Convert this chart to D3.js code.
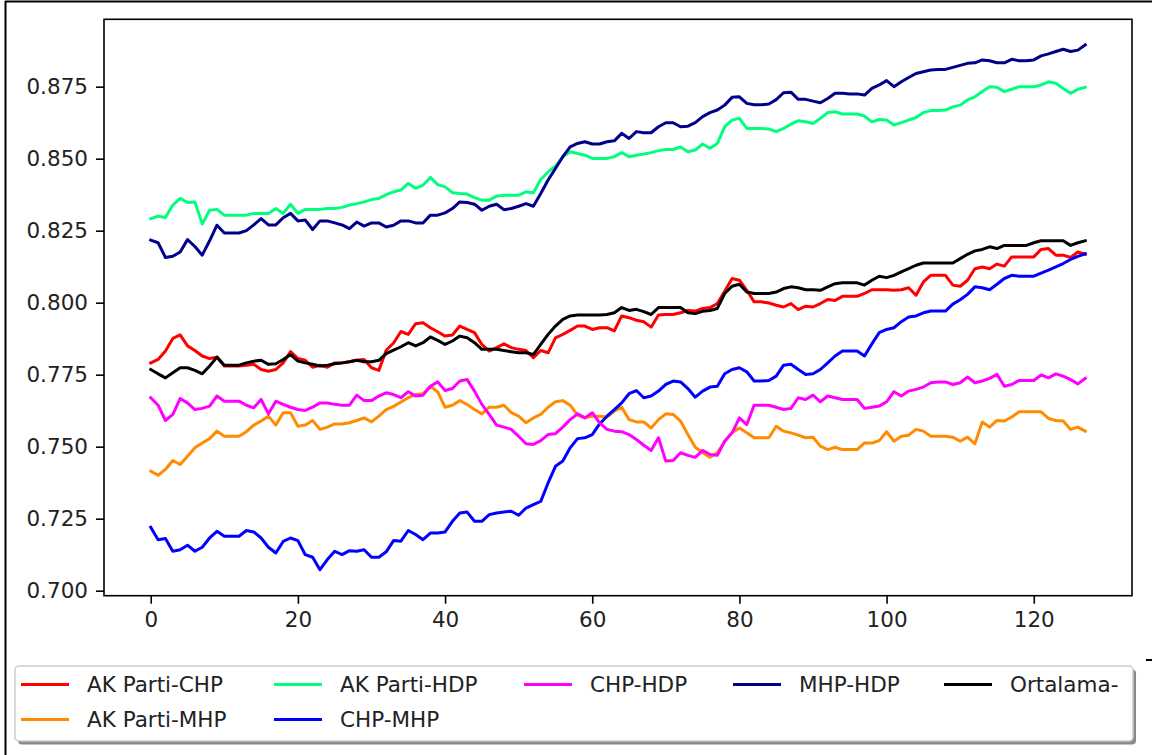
<!DOCTYPE html>
<html>
<head>
<meta charset="utf-8">
<script src="https://cdn.jsdelivr.net/npm/d3@7"></script>
<style>
  body { margin: 0; background: #fff; }
  svg { display: block; font-family: "DejaVu Sans", sans-serif; }
</style>
</head>
<body>
<div id="chart"></div>
<script>
// series values, index 0..127
var akChp = [0.7791,0.7803,0.7832,0.7876,0.7888,0.7850,0.7834,0.7815,0.7806,0.7811,0.7780,0.7780,0.7780,0.7783,0.7786,0.7768,0.7762,0.7768,0.7791,0.7830,0.7806,0.7800,0.7776,0.7783,0.7776,0.7791,0.7791,0.7795,0.7800,0.7803,0.7774,0.7765,0.7835,0.7860,0.7900,
  0.7890,0.7927,0.7930,0.7913,0.7899,0.7884,0.7888,0.7919,0.7907,0.7896,0.7855,0.7832,0.7844,0.7857,0.7844,0.7838,0.7834,0.7809,0.7834,0.7826,0.7878,0.7890,0.7904,0.7919,0.7919,0.7907,0.7913,0.7913,0.7902,0.7954,0.7948,0.7939,0.7934,0.7915,0.7957,0.7959,0.7959,0.7965,0.7973,0.7971,0.7980,0.7983,0.7997,0.8040,0.8084,0.8078,
  0.8043,0.8003,0.8003,0.7999,0.7991,0.7985,0.7997,0.7976,0.7988,0.7985,0.7997,0.8011,0.8008,0.8022,0.8022,0.8022,0.8032,0.8045,0.8045,0.8045,0.8043,0.8045,0.8052,0.8026,0.8072,0.8095,0.8095,0.8095,0.8061,0.8057,0.8078,0.8118,0.8124,0.8118,0.8134,0.8127,0.8159,0.8159,0.8159,0.8159,0.8185,0.8188,0.8165,0.8165,0.8157,0.8176,0.8168];

var akMhp = [0.7415,0.7401,0.7421,0.7452,0.7438,0.7467,0.7496,0.7513,0.7528,0.7554,0.7536,0.7536,0.7536,0.7552,0.7575,0.7589,0.7606,0.7575,0.7618,0.7618,0.7571,0.7575,0.7591,0.7560,0.7568,0.7579,0.7579,0.7583,0.7591,0.7600,0.7586,0.7606,
  0.7629,0.7640,0.7655,0.7670,0.7681,0.7684,0.7710,0.7690,0.7637,0.7644,0.7660,0.7647,0.7629,0.7614,0.7637,0.7637,0.7644,0.7618,0.7606,0.7583,0.7600,0.7612,0.7637,0.7656,0.7660,0.7644,0.7610,0.7600,0.7606,0.7606,0.7603,0.7623,0.7637,0.7594,0.7586,0.7586,0.7565,0.7594,0.7614,0.7612,0.7589,0.7542,0.7498,0.7479,0.7463,0.7479,0.7519,0.7548,0.7565,0.7548,0.7531,0.7531,0.7531,0.7571,
  0.7554,0.7548,0.7540,0.7531,0.7533,0.7502,0.7490,0.7498,0.7490,0.7490,0.7490,0.7513,0.7513,0.7521,0.7552,0.7519,0.7536,0.7540,0.7560,0.7554,0.7536,0.7536,0.7536,0.7533,0.7519,0.7533,0.7510,0.7586,0.7568,0.7591,0.7589,0.7603,0.7621,0.7621,0.7621,0.7621,0.7598,0.7591,0.7589,0.7560,0.7568,0.7554];

var akHdp = [0.8292,0.8300,0.8296,0.8339,0.8362,0.8348,0.8350,0.8273,0.8321,0.8324,0.8304,0.8304,0.8304,0.8304,0.8310,0.8310,0.8310,0.8327,0.8310,0.8342,0.8310,0.8324,0.8324,0.8324,0.8327,0.8327,0.8331,0.8339,0.8344,0.8350,0.8358,0.8362,0.8375,0.8385,0.8391,
  0.8414,0.8397,0.8408,0.8435,0.8410,0.8402,0.8382,0.8379,0.8377,0.8365,0.8356,0.8356,0.8370,0.8373,0.8373,0.8373,0.8385,0.8382,0.8428,0.8454,0.8474,0.8507,0.8524,0.8518,0.8512,0.8501,0.8501,0.8501,0.8507,0.8521,0.8507,0.8512,0.8516,0.8521,0.8528,0.8532,0.8532,0.8541,0.8524,0.8530,0.8551,0.8536,0.8553,0.8611,0.8634,0.8640,0.8605,0.8605,0.8605,0.8603,0.8594,
  0.8605,0.8620,0.8632,0.8628,0.8622,0.8640,0.8660,0.8663,0.8655,0.8655,0.8655,0.8648,0.8628,0.8636,0.8634,0.8617,0.8625,0.8634,0.8643,0.8660,0.8667,0.8667,0.8669,0.8680,0.8686,0.8704,0.8715,0.8733,0.8750,0.8748,0.8733,0.8741,0.8750,0.8750,0.8750,0.8756,0.8767,0.8762,0.8744,0.8727,0.8741,0.8748];

var chpMhp = [0.7220,0.7177,0.7181,0.7137,0.7142,0.7158,0.7137,0.7151,0.7183,0.7206,0.7189,0.7189,0.7189,0.7209,0.7204,0.7183,0.7151,0.7131,0.7171,0.7183,0.7174,0.7125,0.7116,0.7073,0.7108,0.7137,0.7125,0.7139,0.7137,0.7142,0.7116,
  0.7116,0.7135,0.7174,0.7172,0.7209,0.7195,0.7177,0.7200,0.7200,0.7204,0.7241,0.7270,0.7273,0.7241,0.7241,0.7264,0.7270,0.7273,0.7276,0.7262,0.7287,0.7299,0.7310,0.7374,0.7432,0.7450,0.7496,0.7528,0.7531,0.7542,0.7579,0.7606,0.7629,0.7652,0.7684,0.7695,0.7670,0.7676,0.7693,0.7716,0.7728,0.7725,0.7702,0.7672,0.7693,0.7707,0.7710,0.7753,0.7768,0.7774,0.7760,0.7728,0.7728,0.7730,0.7745,
  0.7783,0.7786,0.7768,0.7751,0.7753,0.7768,0.7791,0.7815,0.7832,0.7832,0.7832,0.7815,0.7857,0.7896,0.7907,0.7913,0.7934,0.7950,0.7954,0.7965,0.7971,0.7971,0.7971,0.7995,0.8010,0.8029,0.8055,0.8052,0.8045,0.8064,0.8084,0.8095,0.8092,0.8092,0.8092,0.8103,0.8113,0.8124,0.8136,0.8150,0.8161,0.8170];

var chpHdp = [0.7670,0.7644,0.7591,0.7612,0.7667,0.7652,0.7629,0.7633,0.7641,0.7676,0.7658,0.7658,0.7658,0.7644,0.7635,0.7664,0.7614,0.7658,0.7647,0.7637,0.7629,0.7626,0.7637,0.7652,0.7652,0.7647,0.7644,0.7644,0.7679,0.7660,0.7660,
  0.7676,0.7687,0.7681,0.7670,0.7691,0.7676,0.7679,0.7710,0.7725,0.7695,0.7702,0.7728,0.7733,0.7693,0.7647,0.7612,0.7575,0.7568,0.7560,0.7536,0.7510,0.7508,0.7521,0.7542,0.7545,0.7568,0.7594,0.7614,0.7600,0.7618,0.7583,0.7560,0.7554,0.7552,0.7542,0.7525,0.7505,0.7487,0.7531,0.7450,0.7452,0.7479,0.7470,0.7463,0.7487,0.7473,0.7470,0.7519,0.7548,0.7600,0.7577,0.7644,0.7644,0.7644,0.7637,
  0.7629,0.7633,0.7670,0.7664,0.7679,0.7656,0.7676,0.7670,0.7664,0.7664,0.7664,0.7633,0.7637,0.7641,0.7656,0.7691,0.7676,0.7693,0.7699,0.7707,0.7722,0.7725,0.7725,0.7716,0.7722,0.7742,0.7722,0.7728,0.7737,0.7751,0.7710,0.7716,0.7730,0.7730,0.7730,0.7749,0.7739,0.7753,0.7745,0.7733,0.7718,0.7737];

var mhpHdp = [0.8217,0.8208,0.8157,0.8161,0.8176,0.8219,0.8195,0.8165,0.8215,0.8269,0.8242,0.8242,0.8242,0.8250,0.8270,0.8292,0.8270,0.8270,0.8295,0.8310,0.8284,0.8287,0.8254,0.8284,0.8284,0.8277,0.8270,0.8257,0.8280,0.8266,0.8277,0.8277,0.8263,0.8269,0.8284,
  0.8284,0.8277,0.8277,0.8304,0.8304,0.8312,0.8327,0.8350,0.8348,0.8342,0.8321,0.8335,0.8342,0.8323,0.8327,0.8335,0.8344,0.8335,0.8379,0.8426,0.8466,0.8507,0.8541,0.8553,0.8559,0.8551,0.8551,0.8559,0.8562,0.8588,0.8570,0.8594,0.8590,0.8590,0.8611,0.8625,0.8625,0.8611,0.8613,0.8625,0.8646,0.8660,0.8669,0.8686,0.8713,0.8715,0.8692,0.8687,0.8687,0.8690,0.8705,
  0.8729,0.8731,0.8706,0.8706,0.8700,0.8694,0.8709,0.8727,0.8727,0.8725,0.8725,0.8721,0.8744,0.8756,0.8771,0.8750,0.8767,0.8782,0.8796,0.8802,0.8808,0.8810,0.8810,0.8817,0.8824,0.8831,0.8833,0.8843,0.8840,0.8833,0.8833,0.8845,0.8840,0.8840,0.8843,0.8857,0.8864,0.8872,0.8880,0.8872,0.8877,0.8895];

var ortalama = [0.7768,0.7753,0.7739,0.7757,0.7774,0.7774,0.7765,0.7753,0.7780,0.7811,0.7783,0.7783,0.7783,0.7791,0.7797,0.7800,0.7786,0.7788,0.7803,0.7820,0.7797,0.7791,0.7786,0.7780,0.7783,0.7788,0.7791,0.7795,0.7800,0.7795,0.7795,
  0.7800,0.7823,0.7835,0.7847,0.7861,0.7850,0.7861,0.7881,0.7869,0.7855,0.7867,0.7884,0.7878,0.7861,0.7838,0.7838,0.7838,0.7834,0.7830,0.7826,0.7826,0.7820,0.7855,0.7890,0.7919,0.7942,0.7954,0.7957,0.7957,0.7957,0.7957,0.7959,0.7965,0.7983,0.7973,0.7977,0.7969,0.7959,0.7983,0.7983,0.7983,0.7983,0.7965,0.7962,0.7970,0.7973,0.7980,
  0.8032,0.8057,0.8064,0.8037,0.8032,0.8032,0.8032,0.8037,0.8049,0.8055,0.8052,0.8045,0.8045,0.8043,0.8055,0.8066,0.8069,0.8069,0.8069,0.8061,0.8078,0.8092,0.8087,0.8095,0.8107,0.8118,0.8130,0.8138,0.8138,0.8138,0.8138,0.8138,0.8153,0.8168,0.8180,0.8185,0.8194,0.8188,0.8199,0.8199,0.8199,0.8199,0.8208,0.8215,0.8215,0.8215,0.8215,0.8199,0.8208,0.8215];

// names in plot order, and tick labels
var seriesNames = ["AK Parti-CHP", "AK Parti-MHP", "AK Parti-HDP", "CHP-MHP", "CHP-HDP", "MHP-HDP", "Ortalama-"];
var seriesValues = [akChp, akMhp, akHdp, chpMhp, chpHdp, mhpHdp, ortalama];
var xTicks = [0, 20, 40, 60, 80, 100, 120];
var yTicks = [0.700, 0.725, 0.750, 0.775, 0.800, 0.825, 0.850, 0.875];

// styling
var colors = ["#ff0000", "#ff8c00", "#00ff7f", "#0000ff", "#ff00ff", "#00008b", "#000000"];
var width = 1152, height = 755;
var plot = {left: 104, right: 1132, top: 19.3, bottom: 595.7};
var fontSize = 21.5;

var svg = d3.select("#chart").append("svg")
  .attr("width", width)
  .attr("height", height);

// outer frame pieces
svg.append("line").attr("x1", 5).attr("x2", width).attr("y1", 1.5).attr("y2", 1.5)
  .attr("stroke", "#000").attr("stroke-width", 2);
svg.append("line").attr("x1", 5.5).attr("x2", 5.5).attr("y1", 1).attr("y2", height)
  .attr("stroke", "#000").attr("stroke-width", 2);
svg.append("line").attr("x1", 1146).attr("x2", width).attr("y1", 660).attr("y2", 660)
  .attr("stroke", "#000").attr("stroke-width", 2);

// scales with matplotlib's 5% margins
var x = d3.scaleLinear().domain([-6.35, 133.35]).range([plot.left, plot.right]);
var y = d3.scaleLinear().domain([0.69826, 0.8984]).range([plot.bottom, plot.top]);

var g = svg.append("g");

// lines
var line = d3.line()
  .x(function(d, i) { return x(i); })
  .y(function(d) { return y(d); });

g.selectAll("path.series")
  .data(seriesValues)
  .enter()
  .append("path")
  .attr("class", "series")
  .attr("d", line)
  .attr("fill", "none")
  .attr("stroke", function(d, i) { return colors[i]; })
  .attr("stroke-width", 3)
  .attr("stroke-linejoin", "round")
  .attr("stroke-linecap", "square");

// frame of the axes
g.append("rect")
  .attr("x", plot.left).attr("y", plot.top)
  .attr("width", plot.right - plot.left).attr("height", plot.bottom - plot.top)
  .attr("fill", "none").attr("stroke", "#000").attr("stroke-width", 1.6);

// axes
var xAxis = d3.axisBottom(x).tickValues(xTicks).tickFormat(d3.format("d"))
  .tickSize(8).tickPadding(8).tickSizeOuter(0);
var yAxis = d3.axisLeft(y).tickValues(yTicks).tickFormat(d3.format(".3f"))
  .tickSize(8).tickPadding(8).tickSizeOuter(0);

var gx = g.append("g").attr("transform", "translate(0," + plot.bottom + ")").call(xAxis);
var gy = g.append("g").attr("transform", "translate(" + plot.left + ",0)").call(yAxis);

[gx, gy].forEach(function(a) {
  a.select(".domain").remove();
  a.selectAll(".tick line").attr("stroke", "#000").attr("stroke-width", 1.6);
  a.selectAll(".tick text")
    .attr("fill", "#222")
    .style("font-family", "DejaVu Sans")
    .style("font-size", fontSize + "px");
});

// legend
var legend = {x: 15, y: 666, w: 1118, h: 75};
var lg = svg.append("g");
lg.append("rect")
  .attr("x", legend.x + 3).attr("y", legend.y + 3.5)
  .attr("width", legend.w).attr("height", legend.h)
  .attr("rx", 4).attr("fill", "#8a8a8a");
lg.append("rect")
  .attr("x", legend.x).attr("y", legend.y)
  .attr("width", legend.w).attr("height", legend.h)
  .attr("rx", 4).attr("fill", "#fff").attr("stroke", "#cccccc").attr("stroke-width", 1.5);

// matplotlib fills 5 columns column-wise: 2,2,1,1,1
var colX = [21, 274, 524, 733, 944];
var rowY = [684.5, 719.5];
var slot = [[0, 0], [0, 1], [1, 0], [1, 1], [2, 0], [3, 0], [4, 0]];

var item = lg.selectAll("g.item")
  .data(seriesNames)
  .enter()
  .append("g")
  .attr("class", "item")
  .attr("transform", function(d, i) {
    return "translate(" + colX[slot[i][0]] + "," + rowY[slot[i][1]] + ")";
  });

item.append("line")
  .attr("x1", 0).attr("x2", 48)
  .attr("y1", 0).attr("y2", 0)
  .attr("stroke", function(d, i) { return colors[i]; })
  .attr("stroke-width", 3);

item.append("text")
  .attr("x", 66)
  .attr("y", 7.8)
  .attr("fill", "#222")
  .style("font-size", fontSize + "px")
  .text(function(d) { return d; });
</script>
</body>
</html>
